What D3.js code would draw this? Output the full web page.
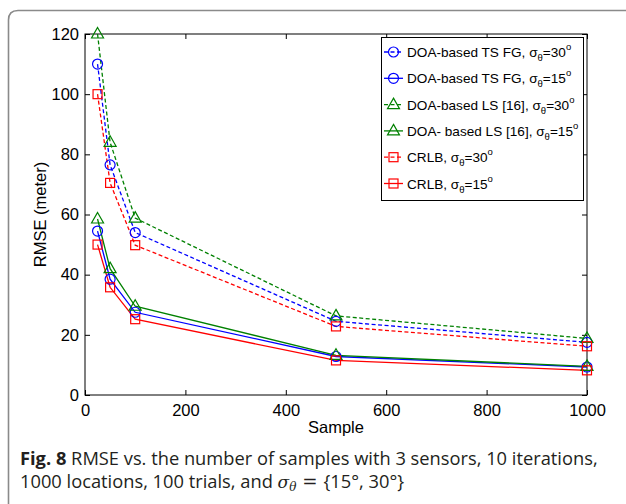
<!DOCTYPE html>
<html><head><meta charset="utf-8">
<script src="https://cdn.jsdelivr.net/npm/d3@7"></script>
<style>
body{margin:0;background:#fff;}
svg{display:block;}
</style></head>
<body>
<svg id="c" width="626" height="504"></svg>
<script>
const samples = [25, 50, 100, 500, 1000];
const tsfg30 = [110, 76.5, 54, 24.5, 17.5];
const tsfg15 = [54.5, 38.5, 27.5, 12.8, 9.3];
const ls30 = [120, 84, 58.8, 26.3, 18.8];
const ls15 = [58.5, 42, 29.5, 13.2, 9.5];
const crlb30 = [100, 70.5, 49.8, 22.8, 16.2];
const crlb15 = [50, 35.8, 25.2, 11.5, 8.2];
const xTicks = [0, 200, 400, 600, 800, 1000];
const yTicks = [0, 20, 40, 60, 80, 100, 120];

const series = [
  {name:"DOA-based TS FG, ", vals:tsfg30, color:"#0000ff", dash:true, marker:"circle", sig:"30"},
  {name:"DOA-based TS FG, ", vals:tsfg15, color:"#0000ff", dash:false, marker:"circle", sig:"15"},
  {name:"DOA-based LS [16], ", vals:ls30, color:"#008000", dash:true, marker:"triangle", sig:"30"},
  {name:"DOA- based LS [16], ", vals:ls15, color:"#008000", dash:false, marker:"triangle", sig:"15"},
  {name:"CRLB, ", vals:crlb30, color:"#ff0000", dash:true, marker:"square", sig:"30"},
  {name:"CRLB, ", vals:crlb15, color:"#ff0000", dash:false, marker:"square", sig:"15"}
];

const svg = d3.select("#c");
const L=85, R=587, T=34, B=395;
const x = d3.scaleLinear().domain([0,1000]).range([L,R]);
const y = d3.scaleLinear().domain([0,120]).range([B,T]);
const font = "'Liberation Sans'";

// outer frame
svg.append("path")
  .attr("d", `M8.5,640 L8.5,20 Q8.5,10.5 18,10.5 L640,10.5`)
  .attr("fill","none").attr("stroke","#8a8a8a").attr("stroke-width",1.6);

// axes box
svg.append("rect").attr("x",L).attr("y",T).attr("width",R-L).attr("height",B-T)
  .attr("fill","none").attr("stroke","#000").attr("stroke-width",1);

const tl = 5;
const gx = svg.append("g").attr("transform",`translate(0,${B})`)
  .call(d3.axisBottom(x).tickValues(xTicks).tickSize(-tl).tickPadding(8).tickFormat(d3.format("d")));
const gxt = svg.append("g").attr("transform",`translate(0,${T})`)
  .call(d3.axisTop(x).tickValues(xTicks).tickSize(-tl).tickFormat(""));
const gy = svg.append("g").attr("transform",`translate(${L},0)`)
  .call(d3.axisLeft(y).tickValues(yTicks).tickSize(-tl).tickPadding(6).tickFormat(d3.format("d")));
const gyr = svg.append("g").attr("transform",`translate(${R},0)`)
  .call(d3.axisRight(y).tickValues(yTicks).tickSize(-tl).tickFormat(""));
[gx,gxt,gy,gyr].forEach(g=>{
  g.attr("font-family",font);
  g.select(".domain").remove();
  g.selectAll("line").attr("stroke","#000");
  g.selectAll("text").attr("font-family",font).attr("font-size",16.5).attr("fill","#000");
});
gx.selectAll("text").attr("y",21).attr("dy",null);

svg.append("text").attr("x",(L+R)/2).attr("y",433).attr("text-anchor","middle")
  .attr("font-family",font).attr("font-size",16.5).text("Sample");
svg.append("text").attr("transform",`translate(46,${(T+B)/2}) rotate(-90)`).attr("text-anchor","middle")
  .attr("font-family",font).attr("font-size",16.5).text("RMSE (meter)");

function marker(g, m, cx, cy, color){
  if(m==="circle") g.append("circle").attr("cx",cx).attr("cy",cy).attr("r",5)
    .attr("fill","none").attr("stroke",color).attr("stroke-width",1.2);
  else if(m==="triangle") g.append("path")
    .attr("d",`M${cx},${cy-6.5} L${cx+6},${cy+4} L${cx-6},${cy+4} Z`)
    .attr("fill","none").attr("stroke",color).attr("stroke-width",1.2);
  else g.append("rect").attr("x",cx-4.5).attr("y",cy-4.5).attr("width",9).attr("height",9)
    .attr("fill","none").attr("stroke",color).attr("stroke-width",1.2);
}

const line = d3.line().x((d,i)=>x(samples[i])).y(d=>y(d));
const plot = svg.append("g");
series.forEach(s=>{
  plot.append("path").attr("d",line(s.vals)).attr("fill","none")
    .attr("stroke",s.color).attr("stroke-width",1.3)
    .attr("stroke-dasharray", s.dash ? "4,2.5" : null);
});
series.forEach(s=>{
  s.vals.forEach((v,i)=>marker(plot, s.marker, x(samples[i]), y(v), s.color));
});

// legend
const lg = svg.append("g");
lg.append("rect").attr("x",381.5).attr("y",37.5).attr("width",202).attr("height",163)
  .attr("fill","#fff").attr("stroke","#000").attr("stroke-width",1);
series.forEach((s,i)=>{
  const yy = 52 + i*26.3;
  lg.append("line").attr("x1",384).attr("x2",403).attr("y1",yy).attr("y2",yy)
    .attr("stroke",s.color).attr("stroke-width",1.3).attr("stroke-dasharray", s.dash ? "4,2.5" : null);
  marker(lg, s.marker, 393.5, yy, s.color);
  const t = lg.append("text").attr("x",407).attr("y",yy+5).attr("font-family",font).attr("font-size",13.6).attr("fill","#000");
  t.append("tspan").text(s.name + "\u03C3");
  t.append("tspan").attr("font-size",9.5).attr("dy",4).text("\u03B8");
  t.append("tspan").attr("dy",-4).text("=" + s.sig);
  t.append("tspan").attr("font-size",9.5).attr("dy",-7).text("o");
});

// caption
const cf = "'Open Sans', 'Noto Sans', sans-serif";
const c1 = svg.append("text").attr("x",20).attr("y",465).attr("font-family",cf).attr("font-size",18.3).attr("fill","#231f20");
c1.append("tspan").attr("font-weight","bold").text("Fig. 8");
c1.append("tspan").text(" RMSE vs. the number of samples with 3 sensors, 10 iterations,");
const c2 = svg.append("text").attr("x",20).attr("y",488).attr("font-family",cf).attr("font-size",18.3).attr("fill","#231f20");
c2.append("tspan").text("1000 locations, 100 trials, and ");
c2.append("tspan").attr("font-family","'DejaVu Serif', serif").attr("font-style","italic").attr("font-size",17).text("\u03C3");
c2.append("tspan").attr("font-family","'DejaVu Serif', serif").attr("font-style","italic").attr("font-size",12).attr("dy",3).text("\u03B8");
c2.append("tspan").attr("dy",-3).attr("font-family","'DejaVu Serif', serif").text(" = ");
c2.append("tspan").text("{15°, 30°}");
</script>
</body></html>
